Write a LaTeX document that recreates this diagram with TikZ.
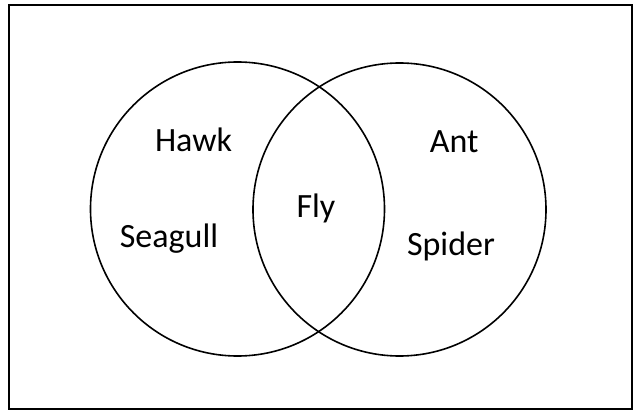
\documentclass[tikz,border=0pt]{standalone}
\usepackage{fontspec}
\setmainfont{Carlito}
\begin{document}
\begin{tikzpicture}[x=1pt,y=-1pt,
  setcircle/.style={draw=black,line width=1.6pt,circle,inner sep=0pt,minimum size=#1},
  lbl/.style={font=\fontsize{34}{40}\selectfont,inner sep=0pt,anchor=base}]
\useasboundingbox (0,0) rectangle (641,414);
\draw[line width=2pt] (8.5,5.5) rectangle (631.5,409.5);
\node[setcircle=294pt] (left) at (237.5,209) {};
\node[setcircle=293pt] (right) at (399.5,209.5) {};
\node[lbl] (hawk) at (193.5,151.7) {Hawk};
\node[lbl] (seagull) at (169,248) {Seagull};
\node[lbl] (fly) at (316,217.3) {Fly};
\node[lbl] (ant) at (454.3,152.3) {Ant};
\node[lbl] (spider) at (451,256) {Spider};
\end{tikzpicture}
\end{document}
